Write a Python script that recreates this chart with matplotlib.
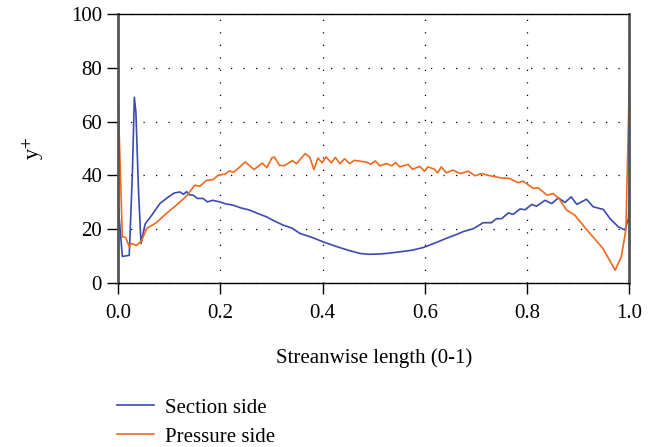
import matplotlib
matplotlib.use('Agg')
import matplotlib.pyplot as plt

plt.rcParams['font.family'] = ['Liberation Serif', 'DejaVu Serif']
plt.rcParams['mathtext.fontset'] = 'stix'

# section side (blue)
sec_x = [0, 0.0085, 0.022, 0.028, 0.032, 0.035, 0.040, 0.045, 0.053, 0.063,
         0.082, 0.098, 0.110, 0.121, 0.128, 0.134, 0.140, 0.147, 0.155, 0.166,
         0.175, 0.185, 0.199, 0.210, 0.225, 0.240, 0.257, 0.275, 0.290, 0.305,
         0.323, 0.340, 0.356, 0.380, 0.401, 0.430, 0.450, 0.473, 0.490, 0.512,
         0.530, 0.551, 0.575, 0.597, 0.620, 0.642, 0.660, 0.675, 0.695, 0.714,
         0.730, 0.740, 0.750, 0.763, 0.773, 0.786, 0.796, 0.809, 0.818, 0.835,
         0.848, 0.861, 0.874, 0.886, 0.897, 0.916, 0.929, 0.949, 0.962, 0.978,
         0.991, 0.998, 1.0]
sec_y = [30, 10, 10.4, 40, 69, 63.5, 35, 14.8, 22, 24.5,
         29.6, 32, 33.5, 33.9, 33, 34, 32.8, 32.7, 31.5, 31.5,
         30.2, 30.8, 30.2, 29.5, 29, 28, 27.2, 25.8, 24.7, 23.2,
         21.6, 20.5, 18.5, 17, 15.4, 13.5, 12.3, 11.1, 10.8, 10.9,
         11.2, 11.7, 12.3, 13.3, 15, 16.7, 18, 19.2, 20.3, 22.5,
         22.5, 24, 24, 26.1, 25.6, 27.6, 27.3, 29.3, 28.6, 30.8,
         29.6, 31.7, 30, 32.1, 29.3, 31.2, 28.4, 27.4, 24, 21,
         19.8, 24, 32]

# pressure side (orange)
pre_x = [0, 0.0085, 0.015, 0.022, 0.026, 0.036, 0.046, 0.056, 0.075, 0.095,
         0.114, 0.134, 0.150, 0.160, 0.173, 0.186, 0.196, 0.209, 0.218, 0.226,
         0.237, 0.249, 0.266, 0.282, 0.291, 0.301, 0.306, 0.316, 0.326, 0.341,
         0.349, 0.366, 0.375, 0.383, 0.391, 0.399, 0.407, 0.417, 0.425, 0.434,
         0.443, 0.453, 0.462, 0.485, 0.494, 0.503, 0.512, 0.525, 0.535, 0.543,
         0.551, 0.567, 0.576, 0.590, 0.599, 0.606, 0.619, 0.625, 0.632, 0.642,
         0.655, 0.669, 0.685, 0.698, 0.711, 0.727, 0.750, 0.766, 0.782, 0.792,
         0.812, 0.821, 0.839, 0.851, 0.862, 0.877, 0.893, 0.916, 0.948, 0.972,
         0.984, 0.993, 1.0]
pre_y = [70, 17.3, 17, 13.6, 14.8, 14.1, 15.7, 20.4, 22.5, 26,
         29, 32.4, 36.4, 36, 38.2, 38.5, 40.1, 40.5, 41.7, 41.2,
         43, 45, 42.2, 44.6, 42.9, 46.6, 46.8, 43.7, 43.7, 45.5,
         44.4, 48.1, 46.8, 42.2, 46.5, 44.7, 46.9, 44.7, 46.7, 44.4,
         46.2, 44.4, 45.6, 45, 44.2, 45.4, 43.6, 44.4, 43.6, 44.8,
         43.2, 44.1, 42.3, 43.4, 41.6, 43.2, 42.3, 41, 43.2, 41,
         42, 40.7, 41.6, 39.9, 40.7, 39.9, 39.1, 38.9, 37.3, 37.9,
         35.2, 35.5, 32.7, 33.3, 31.5, 27.2, 25.3, 20, 13, 4.9,
         9.9, 19.8, 76.5]

xticks = [0.0, 0.2, 0.4, 0.6, 0.8, 1.0]
yticks = [0, 20, 40, 60, 80, 100]

fig = plt.figure(figsize=(6.61, 4.47), dpi=100)
ax = fig.add_axes([0.1785, 0.366, 0.7738, 0.6035])

l1, = ax.plot(sec_x, sec_y, color='#3d4ab0', lw=1.2, label='Section side')
l2, = ax.plot(pre_x, pre_y, color='#f2691c', lw=1.2, label='Pressure side')

ax.set_xlim(0, 1)
ax.set_ylim(0, 100)
ax.set_xticks(xticks)
ax.set_xticklabels(['%.1f' % t for t in xticks])
ax.set_yticks(yticks)
ax.grid(True, color='black', linestyle=(0, (1, 9)), linewidth=0.9)
ax.tick_params(direction='out', length=8, width=1, labelsize=15, colors='black')
ax.tick_params(axis='x', pad=7)

ax.spines['left'].set_color('#555555')
ax.spines['left'].set_linewidth(2)
ax.spines['right'].set_color('#555555')
ax.spines['right'].set_linewidth(2)
ax.spines['top'].set_linewidth(1)
ax.spines['bottom'].set_linewidth(1)

ax.set_xlabel('Streanwise length (0-1)', fontsize=15, labelpad=18)
ax.set_ylabel('y$^{+}$', fontsize=16, labelpad=18)

fig.legend(handles=[l1, l2], loc='upper left', bbox_to_anchor=(0.165, 0.128),
           frameon=False, fontsize=15, handlelength=1.75, handletextpad=0.55,
           labelspacing=0.45, borderaxespad=0)

fig.savefig('out.png', dpi=100)
